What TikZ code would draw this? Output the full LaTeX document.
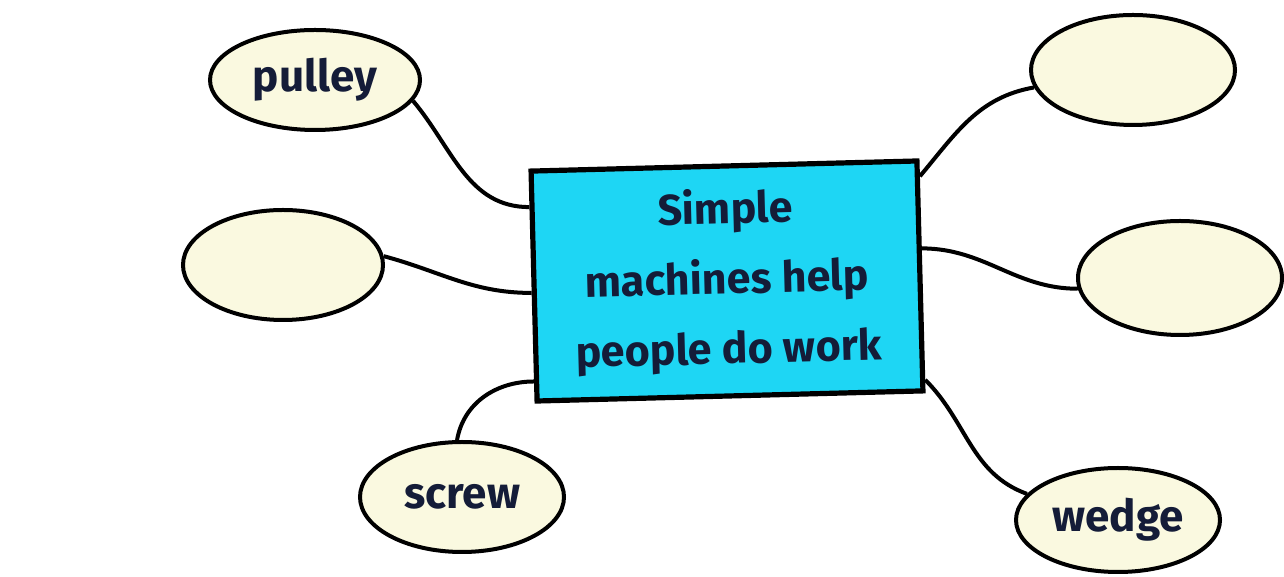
\documentclass[tikz,border=0pt]{standalone}
\usepackage{fontspec}
\setmainfont{Fira Sans}
\usetikzlibrary{shapes.geometric}

\definecolor{boxcyan}{RGB}{30,214,244}
\definecolor{eggshell}{RGB}{250,249,224}
\definecolor{inkblue}{RGB}{20,28,56}

\begin{document}
\begin{tikzpicture}[x=0.5pt, y=0.5pt,
  bubble/.style={draw, ellipse, line width=2pt, fill=eggshell, inner sep=0pt,
    text=inkblue, font=\fontsize{22}{24}\selectfont\bfseries},
  link/.style={line width=2pt}]
  \useasboundingbox (0,0) rectangle (1284,577);

  \node[draw, rectangle, line width=2.6pt, fill=boxcyan, rotate=1.5,
    minimum width=193pt, minimum height=115pt, align=center, text=inkblue,
    font=\fontsize{21.5}{35}\selectfont\bfseries] (main) at (727,296)
    {Simple\\machines help\\people do work};

  \node[bubble, minimum width=105pt, minimum height=50pt] (pulley) at (315,497) {pulley};
  \node[bubble, minimum width=100pt, minimum height=55pt] (blankl) at (283,312) {};
  \node[bubble, minimum width=102pt, minimum height=55pt] (screw) at (462,80) {screw};
  \node[bubble, minimum width=102pt, minimum height=55pt] (blanktr) at (1133,507) {};
  \node[bubble, minimum width=102pt, minimum height=57pt] (blankr) at (1180,299) {};
  \node[bubble, minimum width=102pt, minimum height=52pt] (wedge) at (1118,57) {wedge};

  \draw[link] (pulley.-12) to[out=-50, in=180] (main.158);
  \draw[link] (blankl.5) to[out=-15, in=180] (main.182);
  \draw[link] (screw.95) to[out=80, in=180] (main.206);
  \draw[link] (main.27) to[out=50, in=190] (blanktr.190);
  \draw[link] (main.8) to[out=0, in=180] (blankr.186);
  \draw[link] (main.-28) to[out=-45, in=160] (wedge.164);
\end{tikzpicture}
\end{document}
